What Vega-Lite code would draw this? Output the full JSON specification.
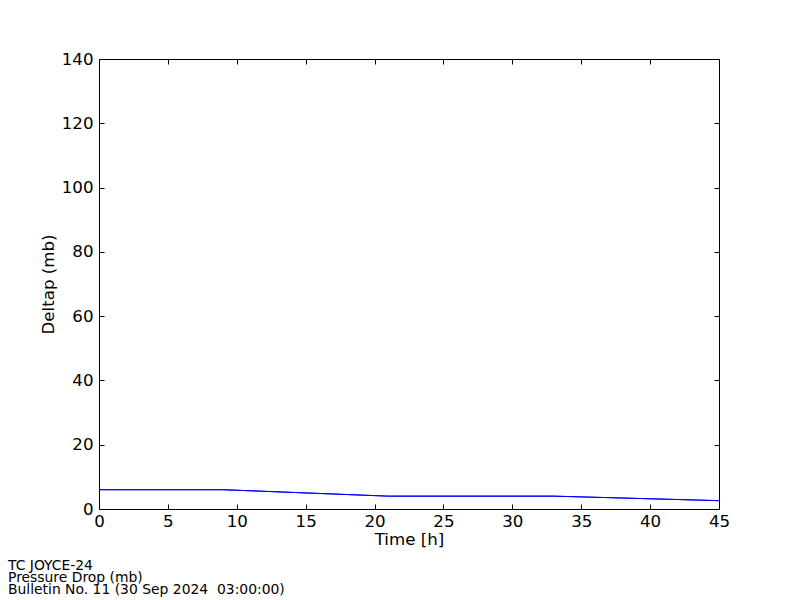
{
  "$schema": "https://vega.github.io/schema/vega-lite/v6.json",
  "autosize": {"type": "none"},
  "padding": {"left": 99, "top": 59, "right": 81, "bottom": 91},
  "width": 620,
  "height": 450,
  "background": "white",
  "config": {
    "font": "DejaVu Sans",
    "view": {"stroke": "black", "strokeWidth": 1},
    "axis": {
      "domain": false,
      "grid": false,
      "tickColor": "black",
      "tickSize": -5,
      "labelFont": "DejaVu Sans",
      "labelFontSize": 16.67,
      "labelColor": "black",
      "titleFont": "DejaVu Sans",
      "titleFontSize": 16.67,
      "titleFontWeight": "normal",
      "titleColor": "black"
    }
  },
  "title": {
    "text": ["TC JOYCE-24", "Pressure Drop (mb)", "Bulletin No. 11 (30 Sep 2024\u00a0 03:00:00)"],
    "orient": "bottom",
    "anchor": "start",
    "frame": "group",
    "dx": -91,
    "offset": 11,
    "font": "DejaVu Sans",
    "fontSize": 13.9,
    "fontWeight": "normal",
    "lineHeight": 12,
    "color": "black"
  },
  "data": {
    "values": [
      {"t": 0, "dp": 6},
      {"t": 9, "dp": 6},
      {"t": 21, "dp": 4},
      {"t": 33, "dp": 4},
      {"t": 45, "dp": 2.6}
    ]
  },
  "layer": [
    {
      "mark": {"type": "line", "color": "#0000ff", "strokeWidth": 1, "clip": true},
      "encoding": {
        "x": {"field": "t", "type": "quantitative", "scale": {"domain": [0, 45], "nice": false, "zero": false},
              "axis": {"orient": "bottom", "values": [0,5,10,15,20,25,30,35,40,45], "title": "Time [h]", "labelPadding": 9, "titlePadding": 2, "labelFlush": false}},
        "y": {"field": "dp", "type": "quantitative", "scale": {"domain": [0, 140], "nice": false},
              "axis": {"orient": "left", "values": [0,20,40,60,80,100,120,140], "title": "Deltap (mb)", "labelPadding": 11, "titlePadding": 4, "labelFlush": false}}
      }
    },
    {
      "mark": {"type": "line", "color": "#0000ff", "strokeWidth": 1, "clip": true},
      "encoding": {
        "x": {"field": "t", "type": "quantitative",
              "axis": {"orient": "top", "values": [0,5,10,15,20,25,30,35,40,45], "labels": false, "title": null}},
        "y": {"field": "dp", "type": "quantitative",
              "axis": {"orient": "right", "values": [0,20,40,60,80,100,120,140], "labels": false, "title": null}}
      }
    }
  ],
  "resolve": {"axis": {"x": "independent", "y": "independent"}}
}
